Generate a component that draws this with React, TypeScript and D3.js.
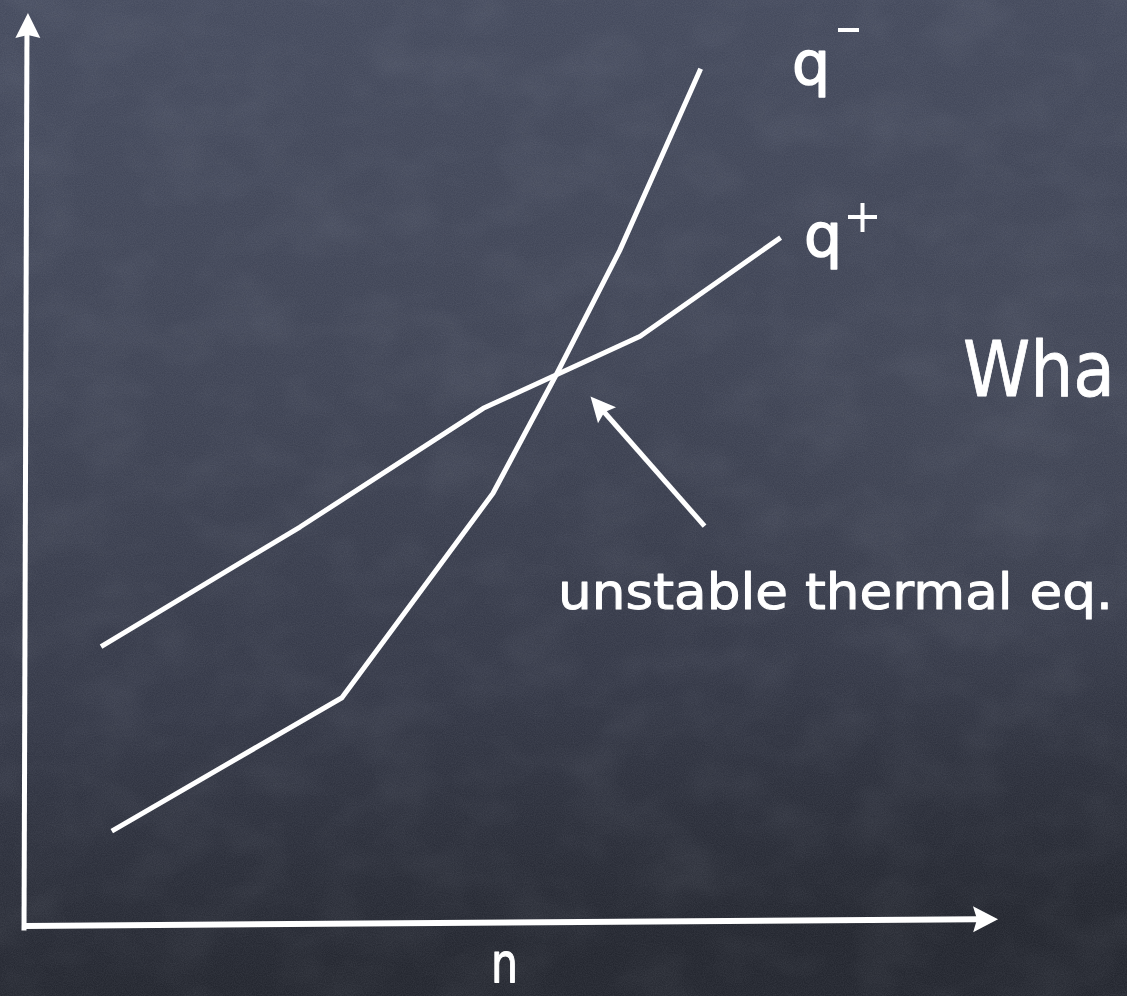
import React from "react";
import * as d3 from "d3";

// Heating (q+) and cooling (q-) rates against density n, in arbitrary units
const qMinusN = [8.9, 32.5, 48.0, 54.5, 61.0, 69.3];
const qMinusRate = [10.4, 25.0, 47.4, 60.4, 74.0, 93.9];
const qPlusN = [7.8, 28.2, 47.0, 63.1, 77.5];
const qPlusRate = [30.6, 43.7, 56.7, 64.6, 75.4];

// Annotation arrow: from the label up to the crossing point
const arrowFrom = [69.7, 43.8];
const arrowTo = [58.0, 58.0];

const W = 1127;
const H = 996;
const FONT = "'DejaVu Sans', 'Noto Sans', sans-serif";

export default function App() {
  const x = d3.scaleLinear().domain([0, 100]).range([25, 1000]);
  const y = d3.scaleLinear().domain([0, 100]).range([926, 13]);

  const line = d3
    .line<[number, number]>()
    .x((d) => x(d[0]))
    .y((d) => y(d[1]))
    .curve(d3.curveLinear);

  const qMinus = qMinusN.map((n, i) => [n, qMinusRate[i]] as [number, number]);
  const qPlus = qPlusN.map((n, i) => [n, qPlusRate[i]] as [number, number]);

  // hand-drawn axes lean very slightly
  const yAxisTop: [number, number] = [x(0.2), y(100)];
  const yAxisBottom: [number, number] = [x(-0.1), y(-0.5)];
  const xAxisLeft: [number, number] = [x(0.2), y(0)];
  const xAxisRight: [number, number] = [x(99.8), y(0.75)];

  // arrowhead polygon pointing from a to b, tip at b
  const head = (a: [number, number], b: [number, number], len: number, half: number, notch: number) => {
    const dx = b[0] - a[0];
    const dy = b[1] - a[1];
    const L = Math.hypot(dx, dy);
    const ux = dx / L;
    const uy = dy / L;
    const px = -uy;
    const py = ux;
    const bx = b[0] - ux * len;
    const by = b[1] - uy * len;
    const nx = b[0] - ux * (len - notch);
    const ny = b[1] - uy * (len - notch);
    return `M${b[0]},${b[1]} L${bx + px * half},${by + py * half} L${nx},${ny} L${bx - px * half},${by - py * half} Z`;
  };
  const shorten = (a: [number, number], b: [number, number], d: number): [number, number] => {
    const dx = b[0] - a[0];
    const dy = b[1] - a[1];
    const L = Math.hypot(dx, dy);
    return [b[0] - (dx / L) * d, b[1] - (dy / L) * d];
  };

  const aFrom: [number, number] = [x(arrowFrom[0]), y(arrowFrom[1])];
  const aTo: [number, number] = [x(arrowTo[0]), y(arrowTo[1])];

  return (
    <svg
      width={W}
      height={H}
      viewBox={`0 0 ${W} ${H}`}
      style={{ position: "fixed", left: 0, top: 0, display: "block" }}
    >
      <defs>
        <linearGradient id="board" x1="0" y1="0" x2="0.1" y2="1">
          <stop offset="0" stopColor="#464c5f" />
          <stop offset="0.4" stopColor="#404556" />
          <stop offset="0.72" stopColor="#353948" />
          <stop offset="1" stopColor="#242730" />
        </linearGradient>
        <radialGradient id="glow" cx="0.9" cy="0.48" r="0.3">
          <stop offset="0" stopColor="#5a6070" stopOpacity="0.22" />
          <stop offset="1" stopColor="#5a6070" stopOpacity="0" />
        </radialGradient>
        <filter id="chalk" x="0" y="0" width="100%" height="100%">
          <feTurbulence type="fractalNoise" baseFrequency="0.9" numOctaves="2" seed="3" result="fine" />
          <feColorMatrix
            in="fine"
            type="matrix"
            values="0 0 0 0 0.75  0 0 0 0 0.78  0 0 0 0 0.85  0 0 0 0.12 -0.03"
          />
        </filter>
        <filter id="smudge" x="0" y="0" width="100%" height="100%">
          <feTurbulence type="fractalNoise" baseFrequency="0.014 0.02" numOctaves="3" seed="7" />
          <feColorMatrix
            type="matrix"
            values="0 0 0 0 0.6  0 0 0 0 0.63  0 0 0 0 0.7  0 0 0 0.12 -0.05"
          />
        </filter>
      </defs>

      <rect width={W} height={H} fill="url(#board)" />
      <rect width={W} height={H} fill="url(#glow)" />
      <rect width={W} height={H} filter="url(#smudge)" />
      <rect width={W} height={H} filter="url(#chalk)" />

      {/* axes */}
      <g fill="#ffffff" stroke="none">
        <line
          x1={yAxisBottom[0]}
          y1={yAxisBottom[1]}
          x2={yAxisTop[0]}
          y2={yAxisTop[1] + 20}
          stroke="#ffffff"
          strokeWidth={5}
        />
        <path d={head(yAxisBottom, [yAxisTop[0] + 1, yAxisTop[1]], 25, 12.5, 3)} />
        <line
          x1={xAxisLeft[0] - 2}
          y1={xAxisLeft[1]}
          x2={xAxisRight[0] - 20}
          y2={xAxisRight[1]}
          stroke="#ffffff"
          strokeWidth={6}
        />
        <path d={head(xAxisLeft, xAxisRight, 25, 13, 4)} />
      </g>

      {/* rate curves */}
      <path
        d={line(qMinus) ?? ""}
        fill="none"
        stroke="#ffffff"
        strokeWidth={5}
        strokeLinejoin="round"
      />
      <path
        d={line(qPlus) ?? ""}
        fill="none"
        stroke="#ffffff"
        strokeWidth={5}
        strokeLinejoin="round"
      />

      {/* annotation arrow */}
      <line
        x1={aFrom[0]}
        y1={aFrom[1]}
        x2={shorten(aFrom, aTo, 18)[0]}
        y2={shorten(aFrom, aTo, 18)[1]}
        stroke="#ffffff"
        strokeWidth={5}
      />
      <path d={head(aFrom, aTo, 25, 12, 4)} fill="#ffffff" />

      {/* labels */}
      <g fill="#ffffff" stroke="#ffffff" strokeLinejoin="round" fontFamily={FONT}>
        <text x={792} y={84} fontSize={60} strokeWidth={1.5}>
          q
        </text>
        <rect x={838} y={28} width={21} height={4} stroke="none" />
        <text x={804} y={256} fontSize={60} strokeWidth={1.5}>
          q
        </text>
        <rect x={848} y={215} width={29} height={4} stroke="none" />
        <rect x={860.5} y={203} width={4} height={29} stroke="none" />

        <text
          transform="translate(963,396) scale(1,1.12)"
          fontSize={68}
          strokeWidth={0.8}
        >
          Wha
        </text>
        <text
          x={558}
          y={609}
          fontSize={50}
          strokeWidth={1}
          textLength={555}
          lengthAdjust="spacingAndGlyphs"
        >
          unstable thermal eq.
        </text>
        <text
          x={491}
          y={982}
          fontSize={56}
          strokeWidth={1.2}
          textLength={27}
          lengthAdjust="spacingAndGlyphs"
        >
          n
        </text>
      </g>
    </svg>
  );
}
